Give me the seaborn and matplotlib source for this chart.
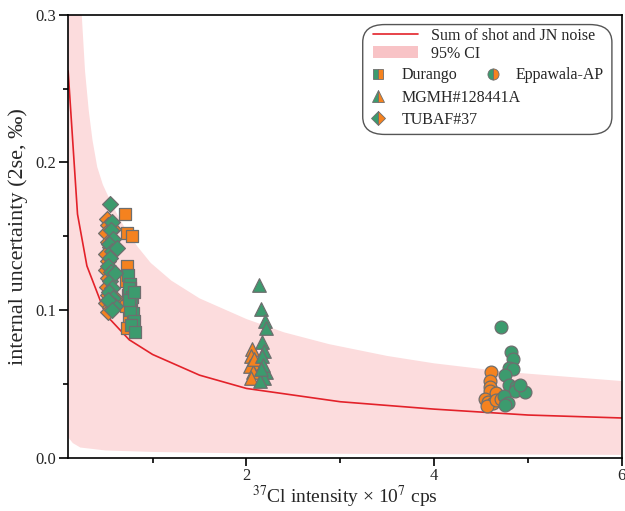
import numpy as np
import pandas as pd
import matplotlib
matplotlib.use('Agg')
import matplotlib.pyplot as plt
import seaborn as sns
from matplotlib.lines import Line2D
from matplotlib.patches import Patch, FancyBboxPatch

# model curve
curve_x = [0.1, 0.2, 0.3, 0.5, 0.75, 1.0, 1.5, 2.0, 3.0, 4.0, 5.0, 6.0]
curve_y = [0.262, 0.165, 0.130, 0.097, 0.080, 0.070, 0.056, 0.047, 0.038, 0.033, 0.029, 0.027]

# 95% CI band
ci_up_x = [0.1, 0.15, 0.2, 0.245, 0.28, 0.32, 0.36, 0.41, 0.47, 0.55, 0.63, 0.72, 0.84, 0.98,
           1.2, 1.5, 2.0, 2.4, 2.88, 3.5, 4.0, 4.8, 5.4, 6.0]
ci_up_y = [0.62, 0.46, 0.37, 0.30, 0.262, 0.235, 0.215, 0.197, 0.185, 0.174, 0.164, 0.154, 0.143, 0.132,
           0.120, 0.108, 0.094, 0.085, 0.077, 0.069, 0.064, 0.058, 0.055, 0.052]
ci_lo_x = [0.1, 0.15, 0.23, 0.5, 1.0, 2.0, 4.0, 6.0]
ci_lo_y = [0.014, 0.010, 0.007, 0.005, 0.004, 0.003, 0.0025, 0.002]

# samples: orange / green sessions
dur_or_x = [0.71, 0.73, 0.78, 0.73, 0.72, 0.74, 0.72, 0.75, 0.73, 0.76]
dur_or_y = [0.165, 0.152, 0.150, 0.130, 0.120, 0.110, 0.103, 0.095, 0.088, 0.115]
dur_gr_x = [0.74, 0.76, 0.75, 0.78, 0.77, 0.79, 0.76, 0.80, 0.77, 0.81, 0.75, 0.80]
dur_gr_y = [0.124, 0.118, 0.115, 0.109, 0.104, 0.098, 0.100, 0.093, 0.090, 0.085, 0.107, 0.112]

tub_or_x = [0.51, 0.53, 0.58, 0.50, 0.52, 0.55, 0.50, 0.53, 0.50, 0.52, 0.51, 0.53, 0.50, 0.55, 0.52, 0.60]
tub_or_y = [0.162, 0.158, 0.155, 0.152, 0.146, 0.143, 0.138, 0.133, 0.127, 0.122, 0.116, 0.110, 0.105, 0.102, 0.099, 0.108]
tub_gr_x = [0.55, 0.57, 0.56, 0.58, 0.54, 0.57, 0.55, 0.53, 0.56, 0.55, 0.57, 0.54, 0.58, 0.56, 0.60, 0.53, 0.57, 0.62, 0.60]
tub_gr_y = [0.172, 0.160, 0.154, 0.148, 0.145, 0.140, 0.135, 0.130, 0.126, 0.120, 0.115, 0.112, 0.108, 0.105, 0.103, 0.107, 0.100, 0.142, 0.125]

mg_or_x = [2.06, 2.05, 2.07, 2.04, 2.07, 2.05, 2.08]
mg_or_y = [0.074, 0.069, 0.0645, 0.0625, 0.058, 0.054, 0.067]
mg_gr_x = [2.13, 2.16, 2.20, 2.21, 2.17, 2.19, 2.17, 2.21, 2.19, 2.14, 2.18, 2.15]
mg_gr_y = [0.117, 0.101, 0.093, 0.088, 0.0785, 0.0725, 0.069, 0.058, 0.054, 0.052, 0.063, 0.060]

ep_or_x = [4.61, 4.59, 4.60, 4.59, 4.66, 4.54, 4.57, 4.63, 4.56, 4.66, 4.71]
ep_or_y = [0.058, 0.052, 0.048, 0.045, 0.044, 0.040, 0.0376, 0.037, 0.035, 0.039, 0.040]
ep_gr_x = [4.71, 4.82, 4.84, 4.80, 4.84, 4.75, 4.80, 4.87, 4.86, 4.97, 4.74, 4.79, 4.75, 4.91]
ep_gr_y = [0.0886, 0.0718, 0.067, 0.061, 0.060, 0.056, 0.049, 0.0477, 0.045, 0.0443, 0.042, 0.037, 0.0356, 0.049]

orange = '#F5821F'
green = '#3C9B6E'
edge = '#6E6E6E'
red = '#E3222A'
pink = '#FCDCDD'

rows = []
for smp, grp, xs, ys in [('Durango', 'a', dur_or_x, dur_or_y), ('Durango', 'b', dur_gr_x, dur_gr_y),
                         ('TUBAF#37', 'a', tub_or_x, tub_or_y), ('TUBAF#37', 'b', tub_gr_x, tub_gr_y),
                         ('MGMH#128441A', 'a', mg_or_x, mg_or_y), ('MGMH#128441A', 'b', mg_gr_x, mg_gr_y),
                         ('Eppawala-AP', 'a', ep_or_x, ep_or_y), ('Eppawala-AP', 'b', ep_gr_x, ep_gr_y)]:
    for xv, yv in zip(xs, ys):
        rows.append({'x': xv, 'y': yv, 'sample': smp, 'group': grp})
df = pd.DataFrame(rows)

sns.set_style('ticks')
plt.rcParams['font.family'] = ['Liberation Serif', 'DejaVu Serif']
plt.rcParams['mathtext.fontset'] = 'stix'

fig = plt.figure(figsize=(6.25, 5.11), dpi=100)
ax = fig.add_axes([0.109, 0.104, 0.886, 0.867])

ax.fill(np.r_[ci_up_x, ci_lo_x[::-1]], np.r_[ci_up_y, ci_lo_y[::-1]], color=pink, lw=0, zorder=1)
sns.lineplot(x=curve_x, y=curve_y, ax=ax, color=red, lw=1.2, zorder=2)

markers = {'Durango': 's', 'TUBAF#37': 'D', 'MGMH#128441A': '^', 'Eppawala-AP': 'o'}
sizes = {'Durango': 75, 'TUBAF#37': 65, 'MGMH#128441A': 95, 'Eppawala-AP': 85}
for grp, col in [('a', orange), ('b', green)]:
    for smp in ['Durango', 'TUBAF#37', 'MGMH#128441A', 'Eppawala-AP']:
        sub = df[(df['group'] == grp) & (df['sample'] == smp)]
        sns.scatterplot(data=sub, x='x', y='y', ax=ax, marker=markers[smp], s=sizes[smp],
                        color=col, edgecolor=edge, linewidth=0.9, legend=False, zorder=3)

ax.set_xlim(0.1, 6)
ax.set_ylim(0, 0.3)
ax.set_xticks([2, 4, 6])
ax.set_xticklabels(['2', '4', '6'])
ax.set_xticks([1, 3, 5], minor=True)
ax.set_yticks([0.0, 0.1, 0.2, 0.3])
ax.set_yticklabels(['0.0', '0.1', '0.2', '0.3'])
ax.set_yticks([0.05, 0.15, 0.25], minor=True)
ax.tick_params(axis='both', which='both', direction='out', labelsize=12, width=1.2, color='black', pad=2)
ax.tick_params(axis='y', which='major', length=6.5)
ax.tick_params(axis='x', which='major', length=5.5)
ax.tick_params(which='minor', length=3.5)
for sp in ax.spines.values():
    sp.set_linewidth(1.2)
    sp.set_color('black')

ax.set_xlabel(r'$^{37}$Cl intensity × 10$^{7}$ cps', fontsize=14, labelpad=0)
ax.set_ylabel('internal uncertainty (2se, ‰)', fontsize=16, labelpad=5)

# legend box
box = FancyBboxPatch((0.532, 0.730), 0.45, 0.248, boxstyle='round,pad=0,rounding_size=0.04',
                     transform=ax.transAxes, facecolor='white', edgecolor='#555555', lw=1.0, zorder=5)
ax.add_patch(box)

def split_marker(m, ms):
    return Line2D([], [], ls='none', marker=m, markersize=ms, fillstyle='left',
                  markerfacecolor=green, markerfacecoloralt=orange, markeredgecolor=edge, markeredgewidth=0.6)

fs = 11.5
leg1 = ax.legend([Line2D([], [], color=red, lw=1.2), Patch(facecolor='#F8C3C6', edgecolor='none')],
                 ['Sum of shot and JN noise', '95% CI'], loc='upper left', bbox_to_anchor=(0.551, 0.971),
                 fontsize=fs, frameon=False, borderpad=0, borderaxespad=0, handlelength=2.8,
                 handleheight=0.8, handletextpad=0.8, labelspacing=0.12)
leg1.set_zorder(6)
ax.add_artist(leg1)
leg2 = ax.legend([split_marker('s', 7), split_marker('^', 9), split_marker('D', 7)],
                 ['Durango', 'MGMH#128441A', 'TUBAF#37'], loc='upper left', bbox_to_anchor=(0.5451, 0.8817),
                 fontsize=fs, frameon=False, borderpad=0, borderaxespad=0, handlelength=1.0,
                 handletextpad=1.0, labelspacing=0.4)
leg2.set_zorder(6)
ax.add_artist(leg2)
leg3 = ax.legend([split_marker('o', 8)], ['Eppawala-AP'], loc='upper left',
                 bbox_to_anchor=(0.7527, 0.8817), fontsize=fs, frameon=False, borderpad=0,
                 borderaxespad=0, handlelength=1.0, handletextpad=0.9)
leg3.set_zorder(6)

fig.savefig('out.png', dpi=100)
